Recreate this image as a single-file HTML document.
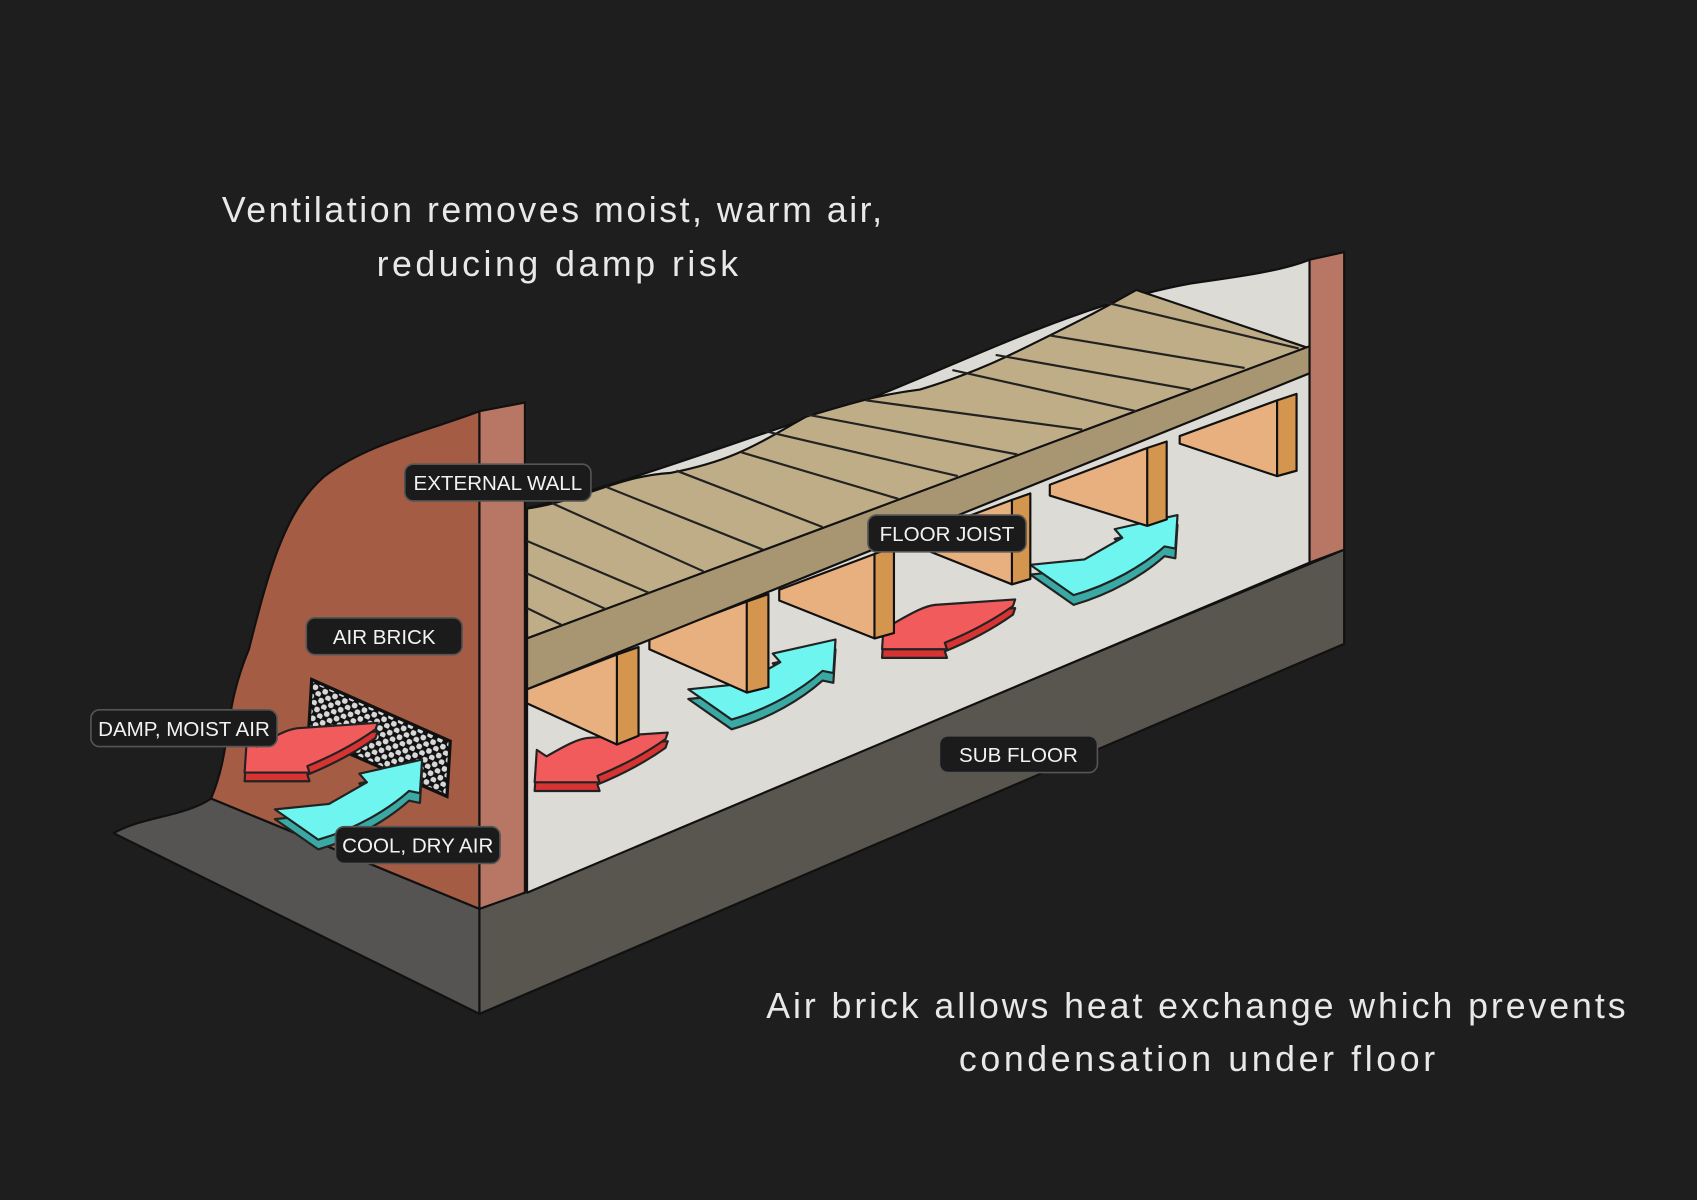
<!DOCTYPE html>
<html><head><meta charset="utf-8"><style>
html,body{margin:0;padding:0;background:#1e1e1e;}
svg{display:block}
.t{font-family:"Liberation Sans",sans-serif;fill:#e8e8e8;font-size:33px;}
.l{font-family:"Liberation Sans",sans-serif;fill:#f2f2f2;font-size:19px;}
</style></head><body>
<svg width="1697" height="1200" viewBox="0 0 1568 1109" preserveAspectRatio="none" xmlns="http://www.w3.org/2000/svg">
<defs>
<pattern id="dots" width="10" height="9" patternUnits="userSpaceOnUse" patternTransform="rotate(25)">
<rect width="10" height="9" fill="#111"/>
<circle cx="2.5" cy="2.5" r="2.7" fill="#d8d8d8"/><circle cx="7.5" cy="7" r="2.7" fill="#d8d8d8"/>
</pattern>
<path id="cy" d="M0,0 L50,-5 L85,-25 L78,-33 L136,-46 L134,-15 L124,-17 C105,0 75,18 40,28 Z"/>
<path id="rd" d="M0,0 L2,-30 L11,-24 C30,-35 40,-40 49,-41 L123,-46 L121,-40 C100,-25 80,-15 58,-6 L60,0 Z"/>
</defs>
<rect width="1568" height="1109" fill="#1e1e1e"/>
<text class="t" x="205" y="205" textLength="610" lengthAdjust="spacing">Ventilation removes moist, warm air,</text>
<text class="t" x="348" y="255" textLength="334" lengthAdjust="spacing">reducing damp risk</text>
<text class="t" x="708" y="941" textLength="794" lengthAdjust="spacing">Air brick allows heat exchange which prevents</text>
<text class="t" x="886" y="990" textLength="440" lengthAdjust="spacing">condensation under floor</text>
<g stroke="#111" stroke-width="2" stroke-linejoin="round">
<path d="M105,770 C130,755 170,755 195,738 L443,840 L443,937 Z" fill="#555452"/>
<path d="M195,738 C215,690 205,660 230,600 C250,520 265,470 300,440 C340,410 390,400 443,380 L443,840 Z" fill="#a45c44"/>
<path d="M443,840 L1242,508 L1242,595 L443,937 Z" fill="#58564f"/>
<path d="M487,470 C600,440 700,400 800,370 C900,330 1000,280 1100,262 C1150,255 1185,250 1210,240 L1210,520 L487,825 Z" fill="#dddbd5"/>
</g>
<!-- under-floor arrows (behind joists) -->
<g stroke="#222" stroke-width="2" stroke-linejoin="round">
<g transform="translate(636,637)"><use href="#cy" transform="translate(0,9)" fill="#3aa8a3"/><use href="#cy" fill="#6ef5ef"/></g>
<g transform="translate(952,522)"><use href="#cy" transform="translate(0,9)" fill="#3aa8a3"/><use href="#cy" fill="#6ef5ef"/></g>
<g transform="translate(494,723)"><use href="#rd" transform="translate(0,8)" fill="#d83333"/><use href="#rd" fill="#f25b5b"/></g>
<g transform="translate(815,600)"><use href="#rd" transform="translate(0,8)" fill="#d83333"/><use href="#rd" fill="#f25b5b"/></g>
</g>
<g stroke="#111" stroke-width="2" stroke-linejoin="round">
<path d="M487,470 C540,462 570,440 620,437 C680,425 700,410 745,385 C790,372 810,365 850,360 C900,345 930,330 970,310 C1000,295 1020,285 1050,268 L1210,322 L487,590 Z" fill="#bfad87"/>
<g fill="#e9b07f">
<path d="M487,637 L570,605 L590,680 L570,688 L487,650 Z"/>
<path d="M600,590 L690,556 L710,635 L690,640 L600,600 Z"/>
<path d="M720,545 L808,512 L826,585 L808,590 L720,555 Z"/>
<path d="M860,490 L935,462 L952,535 L935,540 L860,510 Z"/>
<path d="M970,448 L1060,414 L1078,480 L1060,486 L970,458 Z"/>
<path d="M1090,403 L1180,370 L1198,435 L1180,440 L1090,410 Z"/>
</g>
<g fill="#d4954f">
<path d="M570,605 L590,598 L590,680 L570,688 Z"/>
<path d="M690,556 L710,549 L710,635 L690,640 Z"/>
<path d="M808,512 L826,505 L826,585 L808,590 Z"/>
<path d="M935,462 L952,456 L952,535 L935,540 Z"/>
<path d="M1060,414 L1078,408 L1078,480 L1060,486 Z"/>
<path d="M1180,370 L1198,364 L1198,435 L1180,440 Z"/>
</g>
<path d="M487,590 L1210,320 L1210,345 L487,637 Z" fill="#a89572"/>
<path d="M443,380 L485,372 L485,825 L443,840 Z" fill="#b87764"/>
<path d="M1210,240 L1242,233 L1242,508 L1210,520 Z" fill="#b87764"/>
</g>
<g stroke="#222" stroke-width="2">
<line x1="487" y1="500" x2="600" y2="548"/>
<line x1="487" y1="530" x2="560" y2="563"/>
<line x1="487" y1="562" x2="520" y2="578"/>
<line x1="510" y1="465" x2="650" y2="528"/>
<line x1="560" y1="450" x2="705" y2="508"/>
<line x1="625" y1="435" x2="760" y2="487"/>
<line x1="685" y1="418" x2="830" y2="461"/>
<line x1="705" y1="398" x2="885" y2="440"/>
<line x1="745" y1="383" x2="940" y2="420"/>
<line x1="800" y1="370" x2="1000" y2="397"/>
<line x1="880" y1="342" x2="1050" y2="380"/>
<line x1="920" y1="328" x2="1100" y2="360"/>
<line x1="970" y1="310" x2="1150" y2="340"/>
<line x1="1015" y1="278" x2="1200" y2="322"/>
</g>
<path d="M288,628 L416,685 L413,736 L285,680 Z" fill="url(#dots)" stroke="#111" stroke-width="3"/>
<g stroke="#222" stroke-width="2" stroke-linejoin="round">
<g transform="translate(226,714)"><use href="#rd" transform="translate(0,8)" fill="#d83333"/><use href="#rd" fill="#f25b5b"/></g>
<g transform="translate(254,748)"><use href="#cy" transform="translate(0,9)" fill="#3aa8a3"/><use href="#cy" fill="#6ef5ef"/></g>
</g>
<g stroke="#555" stroke-width="1.5" fill="#1b1b1b">
<rect x="374" y="429" width="172" height="34" rx="8"/>
<rect x="283" y="571" width="144" height="34" rx="8"/>
<rect x="84" y="656" width="172" height="34" rx="8"/>
<rect x="310" y="764" width="152" height="34" rx="8"/>
<rect x="802" y="476" width="146" height="34" rx="8"/>
<rect x="868" y="680" width="146" height="34" rx="8"/>
</g>
<text class="l" x="460" y="453" text-anchor="middle">EXTERNAL WALL</text>
<text class="l" x="355" y="595" text-anchor="middle">AIR BRICK</text>
<text class="l" x="170" y="680" text-anchor="middle">DAMP, MOIST AIR</text>
<text class="l" x="386" y="788" text-anchor="middle">COOL, DRY AIR</text>
<text class="l" x="875" y="500" text-anchor="middle">FLOOR JOIST</text>
<text class="l" x="941" y="704" text-anchor="middle">SUB FLOOR</text>
</svg>
</body></html>
